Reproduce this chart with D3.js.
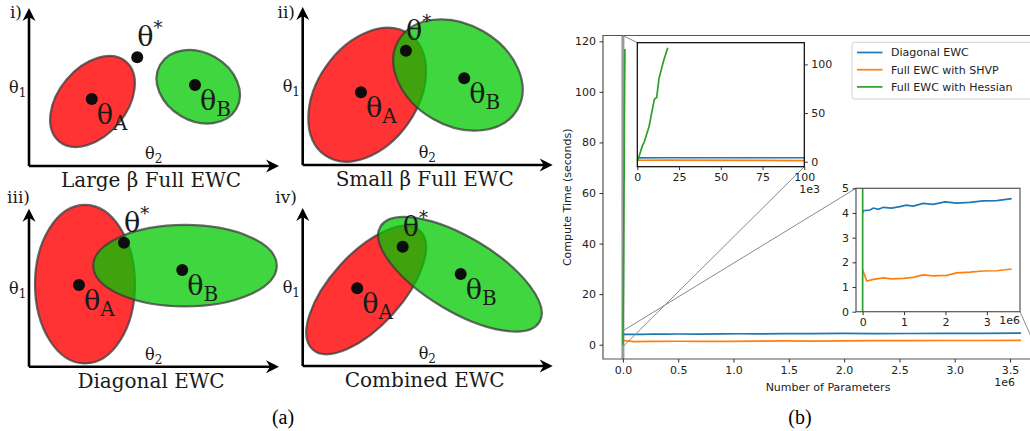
<!doctype html>
<html lang="en">
<head>
  <meta charset="utf-8">
  <title>EWC sketches and compute time</title>
  <script src="https://d3js.org/d3.v7.min.js"></script>
  <style>
    body { margin: 0; background: #fff; }
  </style>
</head>
<body>
<div id="fig"></div>
<script>
// ---------- (a) sketches, in theta units (theta2 across, theta1 up) ----------
const panelTags = ['i)', 'ii)', 'iii)', 'iv)'];
const panelTitles = ['Large β Full EWC', 'Small β Full EWC', 'Diagonal EWC', 'Combined EWC'];
// [centre theta2, centre theta1, semi axis a, semi axis b, tilt deg]
const ellipsesA = [[2.54, 2.58, 2.08, 1.36, 50], [2.58, 2.81, 2.95, 2.0, 55], [2.24, 3.3, 2.0, 3.17, 0], [2.54, 3.04, 3.2, 1.44, 48]];
const ellipsesB = [[6.77, 3.17, 1.76, 1.36, -30], [6.21, 3.6, 2.75, 2.02, -30], [6.24, 4.04, 3.67, 1.63, 0], [6.29, 3.67, 3.71, 1.48, -31]];
const thetaA = [[2.51, 2.68], [2.33, 2.91], [2.0, 3.27], [2.18, 3.11]];
const thetaB = [[6.64, 3.24], [6.46, 3.47], [6.13, 3.87], [6.32, 3.68]];
const thetaStar = [[4.33, 4.35], [4.13, 4.57], [3.8, 4.96], [4.0, 4.77]];

// ---------- (b) compute time ----------
const seriesNames = ['Diagonal EWC', 'Full EWC with SHVP', 'Full EWC with Hessian'];
const diagParams = [0, 15e3, 180e3, 260e3, 380e3, 500e3, 700e3, 900e3, 1.05e6, 1.22e6, 1.46e6, 1.7e6, 1.99e6, 2.27e6, 2.59e6, 2.91e6, 3.24e6, 3.6e6];
const diagTime = [4.0, 4.09, 4.12, 4.2, 4.15, 4.23, 4.2, 4.26, 4.32, 4.28, 4.39, 4.35, 4.45, 4.4, 4.43, 4.49, 4.5, 4.58];
const shvpParams = [0, 15e3, 100e3, 260e3, 500e3, 700e3, 980e3, 1.22e6, 1.46e6, 1.7e6, 2.03e6, 2.27e6, 2.59e6, 2.91e6, 3.24e6, 3.6e6];
const shvpTime = [1.55, 1.62, 1.24, 1.31, 1.37, 1.33, 1.35, 1.39, 1.49, 1.45, 1.47, 1.57, 1.6, 1.65, 1.66, 1.73];
const hessParams = [0, 3e3, 4.2e3, 7e3, 10.2e3, 11.6e3, 13e3, 15.6e3, 18.2e3];
const hessTime = [0, 16, 20.5, 36, 64, 66, 85.6, 102.7, 117];

const mainXTicks = [0, 0.5e6, 1e6, 1.5e6, 2e6, 2.5e6, 3e6, 3.5e6];
const mainYTicks = [0, 20, 40, 60, 80, 100, 120];
const inset1XTicks = [0, 25e3, 50e3, 75e3, 100e3];
const inset1YTicks = [0, 50, 100];
const inset2XTicks = [0, 1e6, 2e6, 3e6];
const inset2YTicks = [0, 1, 2, 3, 4, 5];

const colors = ['#1f77b4', '#ff7f0e', '#2ca02c'];

const svg = d3.select('#fig').append('svg')
    .attr('width', 1030)
    .attr('height', 431)
    .style('display', 'block');
svg.append('rect').attr('width', 1030).attr('height', 431).attr('fill', '#fff');

// ================= (a) =================
const origins = [[29, 166], [302.7, 165], [29, 366.7], [302.7, 366]];
const tagAnchors = [[22, 18], [295, 18], [30, 203], [297, 203]];
const unit = 25, xLen = 250, yLen = 158;

const sketch = svg.append('g')
    .attr('font-family', 'DejaVu Serif')
    .attr('fill', '#1a1a1a');

function ellipse(g, x, y, e, fill, op) {
    const [cx, cy, a, b, tilt] = e;
    g.append('ellipse')
        .attr('cx', x(cx))
        .attr('cy', y(cy))
        .attr('rx', x(a) - x(0))
        .attr('ry', y(0) - y(b))
        .attr('transform', `rotate(${-tilt} ${x(cx)} ${y(cy)})`)
        .attr('fill', fill)
        .attr('fill-opacity', op)
        .attr('stroke', '#3a3a3a')
        .attr('stroke-opacity', 0.75)
        .attr('stroke-width', 2.2);
}

function theta(g, px, py, size, sub, subSize, subDy) {
    const t = g.append('text').attr('x', px).attr('y', py).attr('font-size', size).text('θ');
    t.append('tspan').attr('font-size', subSize).attr('dy', subDy).text(sub);
}

panelTags.forEach((tag, i) => {
    const [ox, oy] = origins[i];
    const x = d3.scaleLinear().domain([0, 10]).range([ox, ox + 10 * unit]);
    const y = d3.scaleLinear().domain([0, 10]).range([oy, oy - 10 * unit]);
    const g = sketch.append('g');

    ellipse(g, x, y, ellipsesA[i], '#ff0000', 0.8);
    ellipse(g, x, y, ellipsesB[i], '#00c800', 0.75);

    // axis arrows
    g.append('path')
        .attr('d', `M${ox},${oy}H${ox + xLen - 6}M${ox},${oy}V${oy - yLen + 6}`)
        .attr('stroke', '#000')
        .attr('stroke-width', 2.6)
        .attr('fill', 'none');
    const head = 'M0,0L-13,-6.5L-9,0L-13,6.5Z';
    g.append('path').attr('d', head).attr('fill', '#000')
        .attr('transform', `translate(${ox + xLen},${oy})`);
    g.append('path').attr('d', head).attr('fill', '#000')
        .attr('transform', `translate(${ox},${oy - yLen}) rotate(-90)`);

    // optima
    [thetaA[i], thetaB[i], thetaStar[i]].forEach(p => {
        g.append('circle').attr('cx', x(p[0])).attr('cy', y(p[1])).attr('r', 6).attr('fill', '#0d0d0d');
    });
    theta(g, x(thetaA[i][0]) + 5, y(thetaA[i][1]) + 25, 27, 'A', 20, 6);
    theta(g, x(thetaB[i][0]) + 5, y(thetaB[i][1]) + 25, 27, 'B', 20, 6);
    theta(g, x(thetaStar[i][0]), y(thetaStar[i][1]) - 11, 27, '*', 18, -12);

    theta(g, ox - 20, oy - 73, 16, '1', 12, 4);
    theta(g, ox + 116, oy - 7, 16, '2', 12, 4);

    g.append('text')
        .attr('x', tagAnchors[i][0])
        .attr('y', tagAnchors[i][1])
        .attr('text-anchor', 'end')
        .attr('font-size', 17)
        .text(tag);

    g.append('text')
        .attr('x', ox + 122)
        .attr('y', oy + 21)
        .attr('text-anchor', 'middle')
        .attr('font-size', 20)
        .text(panelTitles[i]);
});

svg.append('text')
    .attr('x', 283).attr('y', 424)
    .attr('text-anchor', 'middle')
    .attr('font-family', 'Liberation Serif')
    .attr('font-size', 20)
    .text('(a)');
svg.append('text')
    .attr('x', 800).attr('y', 424)
    .attr('text-anchor', 'middle')
    .attr('font-family', 'Liberation Serif')
    .attr('font-size', 20)
    .text('(b)');

// ================= (b) =================
function styleAxis(g, size) {
    g.select('.domain').remove();
    g.attr('font-family', null).attr('font-size', null);
    g.selectAll('line').attr('stroke', '#333');
    g.selectAll('text')
        .attr('font-family', 'DejaVu Sans')
        .attr('font-size', size)
        .attr('fill', '#222');
}

const series = [d3.zip(diagParams, diagTime), d3.zip(shvpParams, shvpTime), d3.zip(hessParams, hessTime)];

const mx = d3.scaleLinear().domain([-0.18e6, 3.78e6]).range([603, 1041]);
const my = d3.scaleLinear().domain([-5.66, 122.3]).range([359, 35.5]);

const defs = svg.append('defs');
defs.append('clipPath').attr('id', 'clipMain').append('rect')
    .attr('x', 603).attr('y', 35.5).attr('width', 438).attr('height', 323.5);

const chart = svg.append('g');
const mainLine = d3.line().x(d => mx(d[0])).y(d => my(d[1]));

const plot = chart.append('g').attr('clip-path', 'url(#clipMain)');
// zoom indicator for the first inset
plot.append('line')
    .attr('x1', mx(0)).attr('x2', mx(0))
    .attr('y1', my(-5.66)).attr('y2', my(122.3))
    .attr('stroke', '#999')
    .attr('stroke-width', 3);
series.forEach((s, i) => {
    plot.append('path')
        .attr('d', mainLine(s))
        .attr('fill', 'none')
        .attr('stroke', colors[i])
        .attr('stroke-width', 1.7);
});

chart.append('path')
    .attr('d', 'M1041,35.5H603V359H1041')
    .attr('fill', 'none')
    .attr('stroke', '#555')
    .attr('stroke-width', 1.2);

chart.append('g')
    .attr('transform', 'translate(0,359)')
    .call(d3.axisBottom(mx).tickValues(mainXTicks).tickFormat(d => (d / 1e6).toFixed(1)).tickSize(3.5).tickPadding(3.5))
    .call(styleAxis, 11);
chart.append('g')
    .attr('transform', 'translate(603,0)')
    .call(d3.axisLeft(my).tickValues(mainYTicks).tickFormat(d3.format('d')).tickSize(3.5).tickPadding(3.5))
    .call(styleAxis, 11);

chart.append('text')
    .attr('transform', 'translate(567,197.25) rotate(-90)')
    .attr('text-anchor', 'middle')
    .attr('dy', '0.35em')
    .attr('font-family', 'DejaVu Sans').attr('font-size', 11).attr('fill', '#222')
    .text('Compute Time (seconds)');
chart.append('text')
    .attr('x', 828).attr('y', 390.5)
    .attr('text-anchor', 'middle')
    .attr('font-family', 'DejaVu Sans').attr('font-size', 11).attr('fill', '#222')
    .text('Number of Parameters');
chart.append('text')
    .attr('x', 1015).attr('y', 385.5)
    .attr('text-anchor', 'end')
    .attr('font-family', 'DejaVu Sans').attr('font-size', 11).attr('fill', '#222')
    .text('1e6');

// ---- insets ----
const i1x = d3.scaleLinear().domain([0, 100e3]).range([637.3, 804.3]);
const i1y = d3.scaleLinear().domain([-5.1, 122.3]).range([166.7, 42.7]);
const i2x = d3.scaleLinear().domain([-0.16e6, 3.8e6]).range([856, 1020]);
const i2y = d3.scaleLinear().domain([0, 5]).range([311.7, 188.3]);

// connectors from the zoomed regions to the insets
const connectors = [
    [[mx(0), my(122.3)], [i1x.range()[0], i1y.range()[1]]],
    [[mx(0), my(-0.8)], [i1x.range()[1], i1y.range()[0]]],
    [[mx(0), my(5.5)], [i2x.range()[0], i2y.range()[1]]],
    [[mx(3.78e6), my(-5.66)], [i2x.range()[1], i2y.range()[0]]]
];
connectors.forEach(c => {
    chart.append('line')
        .attr('x1', c[0][0]).attr('y1', c[0][1])
        .attr('x2', c[1][0]).attr('y2', c[1][1])
        .attr('stroke', '#8a8a8a')
        .attr('stroke-width', 1);
});

function inset(id, x, y, spine) {
    const [x0, x1] = x.range();
    const [y1, y0] = y.range();
    defs.append('clipPath').attr('id', id).append('rect')
        .attr('x', x0).attr('y', y0).attr('width', x1 - x0).attr('height', y1 - y0);
    const g = chart.append('g');
    g.append('rect')
        .attr('x', x0).attr('y', y0).attr('width', x1 - x0).attr('height', y1 - y0)
        .attr('fill', '#fff');
    const line = d3.line().x(d => x(d[0])).y(d => y(d[1]));
    const p = g.append('g').attr('clip-path', `url(#${id})`);
    series.forEach((s, i) => {
        p.append('path')
            .attr('d', line(s))
            .attr('fill', 'none')
            .attr('stroke', colors[i])
            .attr('stroke-width', 1.7);
    });
    g.append('rect')
        .attr('x', x0).attr('y', y0).attr('width', x1 - x0).attr('height', y1 - y0)
        .attr('fill', 'none')
        .attr('stroke', spine)
        .attr('stroke-width', 1.2);
    return g;
}

const in1 = inset('clipIn1', i1x, i1y, '#000');
in1.append('g')
    .attr('transform', `translate(0,${i1y.range()[0]})`)
    .call(d3.axisBottom(i1x).tickValues(inset1XTicks).tickFormat(d => d / 1e3).tickSize(3.5).tickPadding(3.5))
    .call(styleAxis, 11);
in1.append('g')
    .attr('transform', `translate(${i1x.range()[1]},0)`)
    .call(d3.axisRight(i1y).tickValues(inset1YTicks).tickFormat(d3.format('d')).tickSize(3.5).tickPadding(3.5))
    .call(styleAxis, 11);
in1.append('text')
    .attr('x', 820).attr('y', 192.5)
    .attr('text-anchor', 'end')
    .attr('font-family', 'DejaVu Sans').attr('font-size', 11).attr('fill', '#222')
    .text('1e3');

const in2 = inset('clipIn2', i2x, i2y, '#555');
in2.append('g')
    .attr('transform', `translate(0,${i2y.range()[0]})`)
    .call(d3.axisBottom(i2x).tickValues(inset2XTicks).tickFormat(d => d / 1e6).tickSize(3.5).tickPadding(3.5))
    .call(styleAxis, 11);
in2.append('g')
    .attr('transform', `translate(${i2x.range()[0]},0)`)
    .call(d3.axisLeft(i2y).tickValues(inset2YTicks).tickFormat(d3.format('d')).tickSize(3.5).tickPadding(3.5))
    .call(styleAxis, 11);
in2.append('text')
    .attr('x', 1020).attr('y', 323.5)
    .attr('text-anchor', 'end')
    .attr('font-family', 'DejaVu Sans').attr('font-size', 11).attr('fill', '#222')
    .text('1e6');

// ---- legend ----
const legend = chart.append('g').attr('transform', 'translate(852,42.3)');
legend.append('rect')
    .attr('width', 200).attr('height', 56.7).attr('rx', 2.5)
    .attr('fill', '#fff').attr('fill-opacity', 0.85)
    .attr('stroke', '#d0d0d0');
seriesNames.forEach((name, i) => {
    const ly = 10.2 + i * 17.2;
    legend.append('line')
        .attr('x1', 5).attr('x2', 30.5)
        .attr('y1', ly).attr('y2', ly)
        .attr('stroke', colors[i])
        .attr('stroke-width', 1.7);
    legend.append('text')
        .attr('x', 39).attr('y', ly).attr('dy', '0.35em')
        .attr('font-family', 'DejaVu Sans').attr('font-size', 11).attr('fill', '#222')
        .text(name);
});
</script>
</body>
</html>
